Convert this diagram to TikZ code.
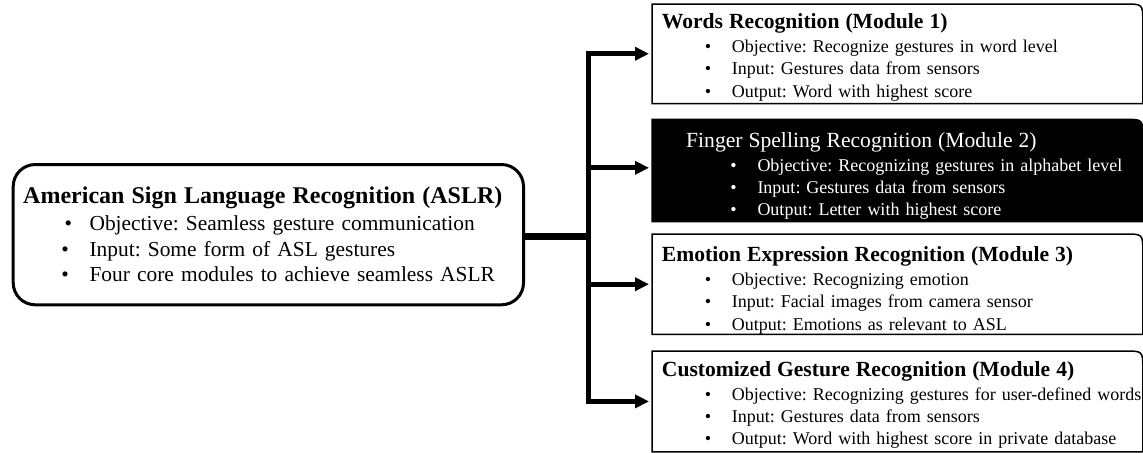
\documentclass[tikz,border=0pt]{standalone}
\usepackage{fontspec}
\setmainfont{Liberation Serif}
\usetikzlibrary{arrows.meta,backgrounds}
\frenchspacing
\newcommand{\itm}[2][35pt]{\\\makebox[#1][r]{\textbullet\hspace{10.4pt}}\mbox{#2}}
\newcommand{\modulenode}[4] {\node at (#1) (#2) [module, minimum height=#3] {#4};}
\newcommand{\modframe}[2] {\draw [#2] (#1.south west) -- (#1.north west) -- ([xshift=-9pt]#1.north east) .. controls (#1.north east) .. ([yshift=-9pt]#1.north east) -- (#1.south east) -- cycle;}
\newcommand{\branch}[2] {\draw [branch] (#1) |- (#2);}
\newcommand{\modtitle}[2][10pt] {\rule{0pt}{#1}{\fontsize{10.8}{12}\selectfont #2}\\[0.8pt]}

\begin{document}
\begin{tikzpicture}[x=0.5pt, y=-0.5pt,
  module/.style={anchor=north west, text width=235.5pt, inner xsep=4.75pt, inner ysep=0pt, align=left, font=\fontsize{9}{11.2}\selectfont},
  aslr/.style={anchor=north west, draw, line width=1.5pt, rounded corners=11pt, text width=245.15pt, minimum height=70.15pt, inner xsep=5pt, align=left, font=\fontsize{10.7}{12.75}\selectfont},
  frame/.style={line width=0.75pt},
  branch/.style={line width=2.5pt, shorten >=1.5pt, -{Triangle[length=7pt, width=6.5pt]}}]
\useasboundingbox (0,0) rectangle (1143,452);

\node at (11.7,163) (aslr) [aslr] {{\fontsize{12}{13}\selectfont\bfseries American Sign Language Recognition (ASLR)}\\[0.75pt]
  \makebox[33.2pt][r]{\textbullet\hspace{8.8pt}}Objective: Seamless gesture communication
  \itm[33.2pt]{Input: Some form of ASL gestures}
  \itm[33.2pt]{Four core modules to achieve seamless ASLR}};

\modulenode {652,4} {m1} {49.35pt} {\modtitle[11pt]{\bfseries Words Recognition (Module 1)}
  \makebox[35pt][r]{\textbullet\hspace{10.4pt}}Objective: Recognize gestures in word level
  \itm{Input: Gestures data from sensors}
  \itm{Output: Word with highest score}};
\modulenode {652,119.3} {m2} {50.7pt} {\color{white}\modtitle[13pt]{\hspace*{12.15pt}Finger Spelling Recognition (Module 2)}
  \makebox[47.8pt][r]{\textbullet\hspace{10.4pt}}Objective: Recognizing gestures in alphabet level
  \itm[47.8pt]{Input: Gestures data from sensors}
  \itm[47.8pt]{Output: Letter with highest score}};
\modulenode {652,234} {m3} {49pt} {\modtitle[13.5pt]{\bfseries Emotion Expression Recognition (Module 3)}
  \makebox[35pt][r]{\textbullet\hspace{10.4pt}}Objective: Recognizing emotion
  \itm{Input: Facial images from camera sensor}
  \itm{Output: Emotions as relevant to ASL}};
\modulenode {652,351} {m4} {50pt} {\modtitle[11pt]{\bfseries Customized Gesture Recognition (Module 4)}
  \makebox[35pt][r]{\textbullet\hspace{10.4pt}}\mbox{Objective: Recognizing gestures for user-defined words}
  \itm{Input: Gestures data from sensors}
  \itm{Output: Word with highest score in private database}};

\begin{scope}[on background layer]
\modframe {m1} {frame};
\modframe {m2} {frame, fill=black};
\modframe {m3} {frame};
\modframe {m4} {frame};
\end{scope}

\draw [line width=3.5pt] ([yshift=-1pt]aslr.east) -- ++(63,0) coordinate (hub);
\branch {hub} {m1.west};
\branch {hub} {[yshift=1.3pt]m2.west};
\branch {hub} {m3.west};
\branch {hub} {m4.west};

\end{tikzpicture}
\end{document}
